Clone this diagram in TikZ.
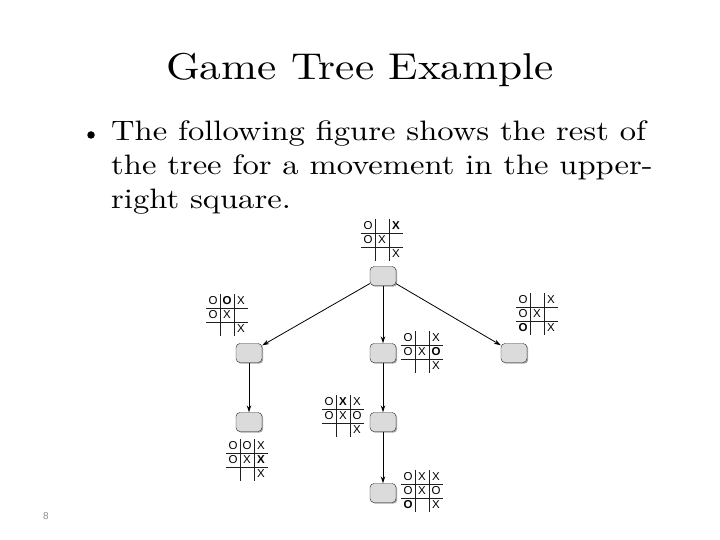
\documentclass[tikz,border=0pt]{standalone}
\usepackage{fontspec}
\setmainfont{lmroman10-regular}[Extension=.otf, FakeStretch=1.16]
\setsansfont{Liberation Sans}
\usetikzlibrary{arrows.meta,shadows}
\definecolor{BoxClr}{rgb}{0.86,0.86,0.86}
\definecolor{GridClr}{rgb}{0.12,0.12,0.12}
\definecolor{PageClr}{rgb}{0.55,0.55,0.55}

\tikzset{
  statebox/.style={draw=black!85, fill=BoxClr, rounded corners=4pt,
    minimum width=26pt, minimum height=19pt, inner sep=0pt,
    drop shadow={shadow xshift=1.2pt, shadow yshift=-1.2pt, opacity=0.7}},
  treeedge/.style={-{Stealth[length=7pt,width=4.5pt]}, line width=0.8pt},
  cellmark/.style={font=\sffamily\fontsize{11.5}{11.5}\selectfont, inner sep=0pt},
  gridline/.style={line width=0.8pt, draw=GridClr},
  bodyline/.style={anchor=base west, inner sep=0pt, font=\fontsize{28.1}{34}\selectfont},
}

% one tic-tac-toe position: name, centre, marks as col/row/mark
\newcommand{\TTTBoard}[3]{%
  \coordinate (#1) at #2;
  \begin{scope}[shift={(#1)}]
    \draw[gridline] (-21,-7) -- (21,-7) (-21,7) -- (21,7)
                    (-7,-21) -- (-7,21) (7,-21) -- (7,21);
    \foreach \c/\r/\m in {#3}
      \node[cellmark] (#1-\c\r) at ({(\c-2)*14},{(\r-2)*14}) {\m};
  \end{scope}}

\begin{document}
\begin{tikzpicture}[x=1pt,y=-1pt]
\useasboundingbox (0,0) rectangle (720,540);

% heading and text
\node[anchor=base, inner sep=0pt, font=\fontsize{37.3}{37.3}\selectfont] (title) at (360,80) {Game Tree Example};
\node[circle, fill=black, inner sep=0pt, minimum size=7.5pt] (bullet) at (91,135) {};
\node[bodyline] (line1) at (111,141) {The following figure shows the rest of};
\node[bodyline] (line2) at (111,175) {the tree for a movement in the upper-};
\node[bodyline] (line3) at (111,209) {right square.};
\node[font=\sffamily\fontsize{10}{10}\selectfont, text=PageClr] (pagenum) at (46,516) {8};

% states
\node[statebox] (root)   at (383,276) {};
\node[statebox] (left)   at (249,353) {};
\node[statebox] (middle) at (383,353) {};
\node[statebox] (right)  at (514,353) {};
\node[statebox] (leftB)  at (249,422) {};
\node[statebox] (midB)   at (383,422) {};
\node[statebox] (bottom) at (383,493) {};

% moves
\draw[treeedge] (root) -- (left);
\draw[treeedge] (root) -- (middle);
\draw[treeedge] (root) -- (right);
\draw[treeedge] (left) -- (leftB);
\draw[treeedge] (middle) -- (midB);
\draw[treeedge] (midB) -- (bottom);

% boards
\TTTBoard{rootG}{(382,240)}{1/1/O, 3/1/{\bfseries X}, 1/2/O, 2/2/X, 3/3/X}
\TTTBoard{leftG}{(227,315)}{1/1/O, 2/1/{\bfseries O}, 3/1/X, 1/2/O, 2/2/X, 3/3/X}
\TTTBoard{midG}{(422,352)}{1/1/O, 3/1/X, 1/2/O, 2/2/X, 3/2/{\bfseries O}, 3/3/X}
\TTTBoard{rightG}{(537,314)}{1/1/O, 3/1/X, 1/2/O, 2/2/X, 1/3/{\bfseries O}, 3/3/X}
\TTTBoard{leftBG}{(247,460)}{1/1/O, 2/1/O, 3/1/X, 1/2/O, 2/2/X, 3/2/{\bfseries X}, 3/3/X}
\TTTBoard{midBG}{(343,416)}{1/1/O, 2/1/{\bfseries X}, 3/1/X, 1/2/O, 2/2/X, 3/2/O, 3/3/X}
\TTTBoard{bottomG}{(422,491)}{1/1/O, 2/1/X, 3/1/X, 1/2/O, 2/2/X, 3/2/O, 1/3/{\bfseries O}, 3/3/X}

\end{tikzpicture}
\end{document}
